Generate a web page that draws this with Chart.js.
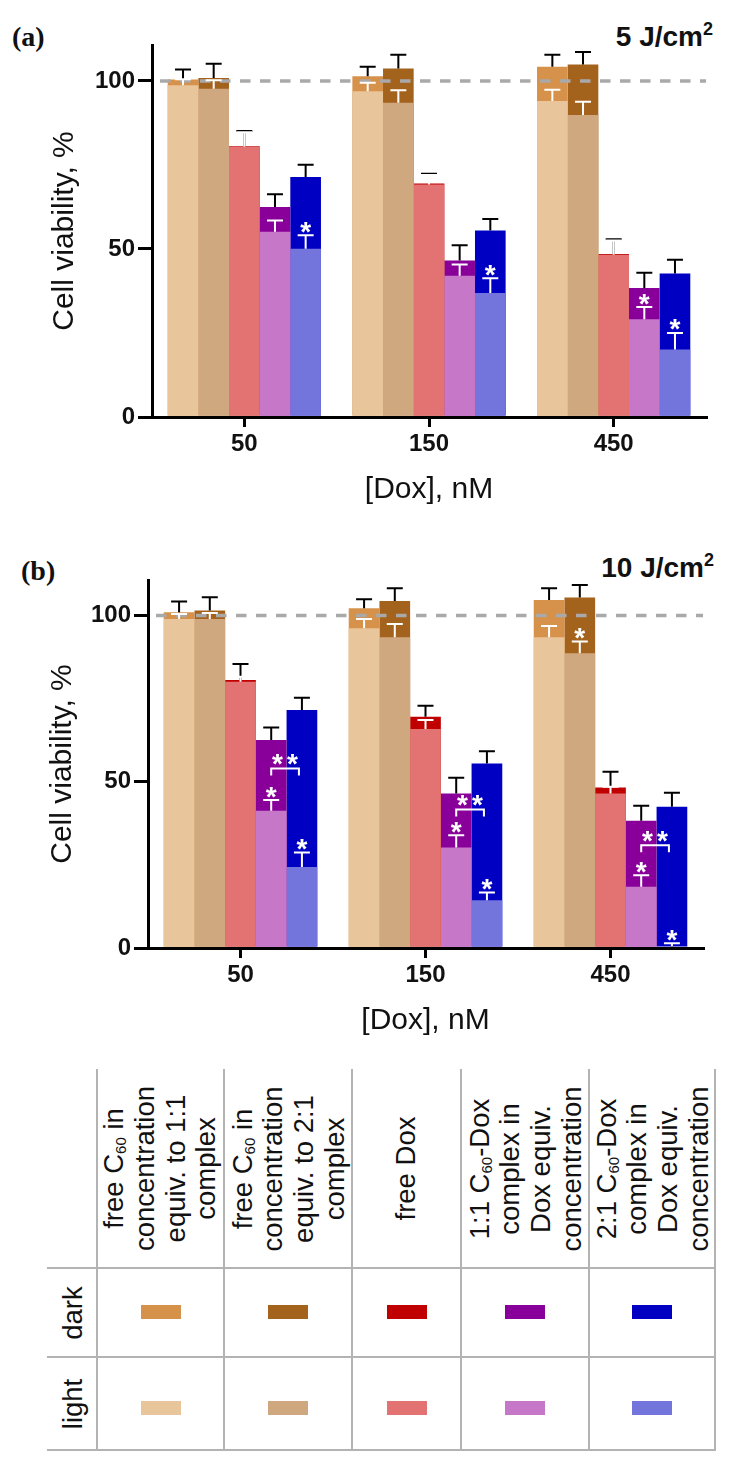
<!DOCTYPE html>
<html>
<head>
<meta charset="utf-8">
<script src="https://cdn.jsdelivr.net/npm/chart.js@4.4.1/dist/chart.umd.min.js"></script>
<style>
  html, body { margin: 0; padding: 0; background: #fff; }
  body { width: 736px; height: 1467px; position: relative; overflow: hidden; font-family: "Liberation Sans", Arial, sans-serif; color: #111; }
  canvas { position: absolute; left: 0; }
  .abs { position: absolute; }
  .panel { font-family: "Liberation Serif", "Times New Roman", serif; font-weight: bold; font-size: 28px; line-height: 28px; white-space: nowrap; }
  .dose { font-weight: bold; font-size: 28px; line-height: 28px; white-space: nowrap; text-align: right; }
  .dose sup { font-size: 18px; line-height: 0; vertical-align: 11px; }
  .hdr { position: absolute; display: flex; flex-direction: column; justify-content: center; align-items: center; text-align: center;
         font-size: 27.5px; line-height: 30.7px; white-space: nowrap; transform: rotate(-90deg); color: #111; }
  .hdr sub { font-size: 15px; line-height: 0; vertical-align: -3px; }
  .vline { position: absolute; width: 2px; background: #b3b3b3; }
  .hline { position: absolute; height: 2px; background: #b3b3b3; }
  .sw { position: absolute; width: 40px; height: 14px; }
</style>
</head>
<body>
<div class="abs panel" style="left:12px; top:23px;">(a)</div>
<div class="abs dose" style="right:23px; top:23px;">5 J/cm<sup>2</sup></div>
<canvas id="chartA" width="736" height="520" style="top:0; width:736px; height:520px;"></canvas>

<div class="abs panel" style="left:21px; top:557px;">(b)</div>
<div class="abs dose" style="right:22px; top:554px;">10 J/cm<sup>2</sup></div>
<canvas id="chartB" width="736" height="520" style="top:535px; width:736px; height:520px;"></canvas>

<div id="table"></div>

<script>
// ---------------- data ----------------
const GROUPS = ['50', '150', '450'];
const SERIES = ['free C60 equiv. to 1:1 complex', 'free C60 equiv. to 2:1 complex', 'free Dox',
                '1:1 C60-Dox complex', '2:1 C60-Dox complex'];
const Y_TICKS = [0, 50, 100];
const Y_MAX = 110.7;
const REF_LINE = 100;
const X_TITLE = '[Dox], nM';
const Y_TITLE = 'Cell viability, %';

const DARK_COLORS  = ['#D6914A', '#A4631D', '#C00000', '#880099', '#0000C3'];
const LIGHT_COLORS = ['#E8C59A', '#D0A880', '#E27372', '#C777C8', '#7474DD'];

// (a) 5 J/cm2 — dark
const A_DARK_C60A  = [100.4, 101.4, 104.2];
const A_DARK_C60B  = [100.9, 103.7, 104.9];
const A_DARK_DOX   = [80.6, 69.5, 48.5];
const A_DARK_CPX11 = [62.5, 46.6, 38.4];
const A_DARK_CPX21 = [71.4, 55.5, 42.7];
const A_DARK_ERR_C60A  = [3.0, 2.8, 3.6];
const A_DARK_ERR_C60B  = [4.2, 4.1, 3.7];
const A_DARK_ERR_DOX   = [4.5, 2.9, 4.4];
const A_DARK_ERR_CPX11 = [3.8, 4.5, 4.5];
const A_DARK_ERR_CPX21 = [3.7, 3.4, 4.1];
// (a) — light
const A_LIGHT_C60A  = [98.7, 96.9, 94.0];
const A_LIGHT_C60B  = [97.7, 93.5, 89.9];
const A_LIGHT_DOX   = [80.4, 69.2, 48.3];
const A_LIGHT_CPX11 = [55.1, 42.0, 29.1];
const A_LIGHT_CPX21 = [50.1, 36.9, 20.1];
const A_LIGHT_ERR_C60A  = [1.8, 2.6, 3.4];
const A_LIGHT_ERR_C60B  = [2.5, 3.7, 3.9];
const A_LIGHT_ERR_DOX   = [4.3, 2.8, 4.2];
const A_LIGHT_ERR_CPX11 = [3.4, 3.4, 3.6];
const A_LIGHT_ERR_CPX21 = [4.0, 4.4, 4.9];
// (a) significance marks (on light bars)
const A_STAR_C60B  = [0, 0, 0];
const A_STAR_CPX11 = [0, 0, 1];
const A_STAR_CPX21 = [1, 1, 1];
const A_BRACKET    = [null, null, null];

// (b) 10 J/cm2 — dark
const B_DARK_C60A  = [101.0, 102.2, 104.7];
const B_DARK_C60B  = [101.5, 104.4, 105.4];
const B_DARK_DOX   = [80.6, 69.6, 48.3];
const B_DARK_CPX11 = [62.6, 46.5, 38.3];
const B_DARK_CPX21 = [71.6, 55.5, 42.5];
const B_DARK_ERR_C60A  = [3.2, 2.7, 3.5];
const B_DARK_ERR_C60B  = [4.0, 3.8, 3.8];
const B_DARK_ERR_DOX   = [4.8, 3.3, 4.7];
const B_DARK_ERR_CPX11 = [3.7, 4.7, 4.5];
const B_DARK_ERR_CPX21 = [3.7, 3.7, 4.2];
// (b) — light
const B_LIGHT_C60A  = [99.0, 96.2, 93.5];
const B_LIGHT_C60B  = [99.0, 93.5, 88.7];
const B_LIGHT_DOX   = [80.1, 65.9, 46.5];
const B_LIGHT_CPX11 = [41.3, 30.2, 18.4];
const B_LIGHT_CPX21 = [24.4, 14.4, 0.6];
const B_LIGHT_ERR_C60A  = [1.5, 2.8, 3.4];
const B_LIGHT_ERR_C60B  = [1.8, 4.0, 3.5];
const B_LIGHT_ERR_DOX   = [1.5, 2.7, 2.0];
const B_LIGHT_ERR_CPX11 = [3.2, 3.7, 3.5];
const B_LIGHT_ERR_CPX21 = [4.3, 2.3, 0.8];
// (b) significance marks
const B_STAR_C60B  = [0, 0, 1];
const B_STAR_CPX11 = [1, 1, 1];
const B_STAR_CPX21 = [1, 1, 1];
const B_BRACKET    = [54.0, 41.7, 30.9];

// legend table
const TABLE_HEAD_1 = ['free C<sub>60</sub> in', 'concentration', 'equiv. to 1:1', 'complex'];
const TABLE_HEAD_2 = ['free C<sub>60</sub> in', 'concentration', 'equiv. to 2:1', 'complex'];
const TABLE_HEAD_3 = ['free Dox'];
const TABLE_HEAD_4 = ['1:1 C<sub>60</sub>-Dox', 'complex in', 'Dox equiv.', 'concentration'];
const TABLE_HEAD_5 = ['2:1 C<sub>60</sub>-Dox', 'complex in', 'Dox equiv.', 'concentration'];
const TABLE_ROWS = ['dark', 'light'];

// ---------------- panels ----------------
const PANEL_A = {
  dark: [A_DARK_C60A, A_DARK_C60B, A_DARK_DOX, A_DARK_CPX11, A_DARK_CPX21],
  darkErr: [A_DARK_ERR_C60A, A_DARK_ERR_C60B, A_DARK_ERR_DOX, A_DARK_ERR_CPX11, A_DARK_ERR_CPX21],
  light: [A_LIGHT_C60A, A_LIGHT_C60B, A_LIGHT_DOX, A_LIGHT_CPX11, A_LIGHT_CPX21],
  lightErr: [A_LIGHT_ERR_C60A, A_LIGHT_ERR_C60B, A_LIGHT_ERR_DOX, A_LIGHT_ERR_CPX11, A_LIGHT_ERR_CPX21],
  stars: [null, A_STAR_C60B, null, A_STAR_CPX11, A_STAR_CPX21],
  bracket: A_BRACKET
};
const PANEL_B = {
  dark: [B_DARK_C60A, B_DARK_C60B, B_DARK_DOX, B_DARK_CPX11, B_DARK_CPX21],
  darkErr: [B_DARK_ERR_C60A, B_DARK_ERR_C60B, B_DARK_ERR_DOX, B_DARK_ERR_CPX11, B_DARK_ERR_CPX21],
  light: [B_LIGHT_C60A, B_LIGHT_C60B, B_LIGHT_DOX, B_LIGHT_CPX11, B_LIGHT_CPX21],
  lightErr: [B_LIGHT_ERR_C60A, B_LIGHT_ERR_C60B, B_LIGHT_ERR_DOX, B_LIGHT_ERR_CPX11, B_LIGHT_ERR_CPX21],
  stars: [null, B_STAR_C60B, null, B_STAR_CPX11, B_STAR_CPX21],
  bracket: B_BRACKET
};

Chart.defaults.font.family = '"Liberation Sans", Arial, sans-serif';
Chart.defaults.color = '#111';

function makeOverlay(P) {
  return {
    id: 'overlay',
    afterDatasetsDraw(chart) {
      const ctx = chart.ctx, ca = chart.chartArea, y = chart.scales.y;
      ctx.save();
      // reference line at 100 %
      const yr = y.getPixelForValue(REF_LINE);
      ctx.strokeStyle = '#A9A9A9';
      ctx.lineWidth = 3.5;
      ctx.setLineDash([10.5, 9.5]);
      ctx.beginPath(); ctx.moveTo(ca.left + 8, yr); ctx.lineTo(ca.right, yr); ctx.stroke();
      ctx.setLineDash([]);
      const errBar = (bar, v, e, color) => {
        const y0 = y.getPixelForValue(v), y1 = y.getPixelForValue(v + e);
        ctx.strokeStyle = color; ctx.lineWidth = 2;
        ctx.beginPath();
        ctx.moveTo(bar.x, y0); ctx.lineTo(bar.x, y1);
        ctx.moveTo(bar.x - 8, y1); ctx.lineTo(bar.x + 8, y1);
        ctx.stroke();
      };
      for (let i = 0; i < 5; i++) {
        chart.getDatasetMeta(5 + i).data.forEach((bar, j) => errBar(bar, P.dark[i][j], P.darkErr[i][j], '#000'));
      }
      for (let i = 0; i < 5; i++) {
        chart.getDatasetMeta(i).data.forEach((bar, j) => errBar(bar, P.light[i][j], P.lightErr[i][j], '#fff'));
      }
      // asterisks
      ctx.fillStyle = '#fff';
      ctx.font = 'bold 28px "Liberation Sans", Arial, sans-serif';
      ctx.textAlign = 'center';
      ctx.textBaseline = 'alphabetic';
      const m = ctx.measureText('*');
      const shift = (m.actualBoundingBoxAscent - m.actualBoundingBoxDescent) / 2;
      const star = (x, cy) => ctx.fillText('*', x, cy + shift);
      for (let i = 0; i < 5; i++) {
        if (!P.stars[i]) continue;
        chart.getDatasetMeta(i).data.forEach((bar, j) => {
          if (P.stars[i][j]) star(bar.x, y.getPixelForValue(P.light[i][j] + P.lightErr[i][j]) - 8);
        });
      }
      // brackets between the two complexes
      const m3 = chart.getDatasetMeta(3).data, m4 = chart.getDatasetMeta(4).data;
      P.bracket.forEach((b, j) => {
        if (b === null) return;
        const x1 = m3[j].x, x2 = m4[j].x - 3, by = y.getPixelForValue(b);
        ctx.strokeStyle = '#fff'; ctx.lineWidth = 2;
        ctx.beginPath();
        ctx.moveTo(x1, by + 7); ctx.lineTo(x1, by); ctx.lineTo(x2, by); ctx.lineTo(x2, by + 7);
        ctx.stroke();
        const xm = (x1 + x2) / 2;
        star(xm - 7.5, by - 9);
        star(xm + 7.5, by - 9);
      });
      ctx.restore();
    }
  };
}

function buildChart(id, P, G) {
  const datasets = [];
  for (let i = 0; i < 5; i++) {
    datasets.push({ label: SERIES[i] + ' (light)', data: P.light[i], backgroundColor: LIGHT_COLORS[i],
      stack: 's' + i, order: 0, borderWidth: 0, categoryPercentage: 0.83, barPercentage: 1.0 });
  }
  for (let i = 0; i < 5; i++) {
    datasets.push({ label: SERIES[i] + ' (dark)', data: P.dark[i], backgroundColor: DARK_COLORS[i],
      stack: 's' + i, order: 1, borderWidth: 0, categoryPercentage: 0.83, barPercentage: 1.0 });
  }
  return new Chart(document.getElementById(id), {
    type: 'bar',
    data: { labels: GROUPS, datasets },
    options: {
      responsive: false,
      animation: false,
      devicePixelRatio: 1,
      layout: { padding: { top: G.top, right: G.right, left: 0, bottom: 0 } },
      plugins: { legend: { display: false }, tooltip: { enabled: false } },
      scales: {
        x: {
          stacked: true,
          offset: true,
          grid: { display: true, drawOnChartArea: false, drawTicks: true, tickLength: 10, offset: false, color: '#000', lineWidth: 3 },
          border: { display: true, color: '#000', width: 3 },
          ticks: { color: '#111', padding: 3, font: { size: 24, weight: 'bold' } },
          title: { display: true, text: X_TITLE, color: '#111', font: { size: 30, weight: 'normal' }, padding: { top: 0, bottom: G.xtp } },
          afterFit: s => { s.height = G.xh; }
        },
        y: {
          stacked: false,
          min: 0,
          max: Y_MAX,
          afterBuildTicks: s => { s.ticks = Y_TICKS.map(v => ({ value: v })); },
          grid: { display: true, drawOnChartArea: false, drawTicks: true, tickLength: 14, color: '#000', lineWidth: 3 },
          border: { display: true, color: '#000', width: 3 },
          ticks: { color: '#111', padding: 3, font: { size: 24, weight: 'bold' } },
          title: { display: true, text: Y_TITLE, color: '#111', font: { size: 30, weight: 'normal' }, padding: { top: G.ytp, bottom: 0 } },
          afterFit: s => { s.width = G.yw; }
        }
      }
    },
    plugins: [makeOverlay(P)]
  });
}

buildChart('chartA', PANEL_A, { top: 45, right: 30, yw: 152, xh: 103, xtp: 12, ytp: 47 });
buildChart('chartB', PANEL_B, { top: 45, right: 33, yw: 148, xh: 107, xtp: 16, ytp: 45 });

// ---------------- legend table ----------------
(function buildTable() {
  const root = document.getElementById('table');
  const COL_X = [97, 224, 352, 461, 589, 715];
  const ROW_Y = [1069, 1268, 1357, 1450];
  const LEFT = 47;
  const heads = [TABLE_HEAD_1, TABLE_HEAD_2, TABLE_HEAD_3, TABLE_HEAD_4, TABLE_HEAD_5];
  const add = (cls, css, html) => { const d = document.createElement('div'); d.className = cls; d.style.cssText = css; if (html) d.innerHTML = html; root.appendChild(d); return d; };
  COL_X.forEach(x => add('vline', `left:${x - 1}px; top:${ROW_Y[0]}px; height:${ROW_Y[3] - ROW_Y[0] + 1}px;`));
  ROW_Y.slice(1).forEach(y => add('hline', `left:${LEFT}px; top:${y - 1}px; width:${COL_X[5] - LEFT + 1}px;`));
  const hh = ROW_Y[1] - ROW_Y[0], hcy = (ROW_Y[0] + ROW_Y[1]) / 2;
  heads.forEach((lines, i) => {
    const w = COL_X[i + 1] - COL_X[i], cx = (COL_X[i] + COL_X[i + 1]) / 2;
    add('hdr', `width:${hh}px; height:${w}px; left:${cx - hh / 2}px; top:${hcy - w / 2}px;`,
        lines.map(l => `<div>${l}</div>`).join(''));
  });
  TABLE_ROWS.forEach((r, k) => {
    const rh = ROW_Y[k + 2] - ROW_Y[k + 1], cy = (ROW_Y[k + 1] + ROW_Y[k + 2]) / 2, w = COL_X[0] - LEFT, cx = (LEFT + COL_X[0]) / 2;
    add('hdr', `width:${rh}px; height:${w}px; left:${cx - rh / 2}px; top:${cy - w / 2}px;`, `<div>${r}</div>`);
    const colors = k === 0 ? DARK_COLORS : LIGHT_COLORS;
    for (let i = 0; i < 5; i++) {
      const sx = (COL_X[i] + COL_X[i + 1]) / 2;
      add('sw', `left:${sx - 20}px; top:${cy - 7 + (k === 1 ? 4 : -1)}px; background:${colors[i]};`);
    }
  });
})();
</script>
</body>
</html>
